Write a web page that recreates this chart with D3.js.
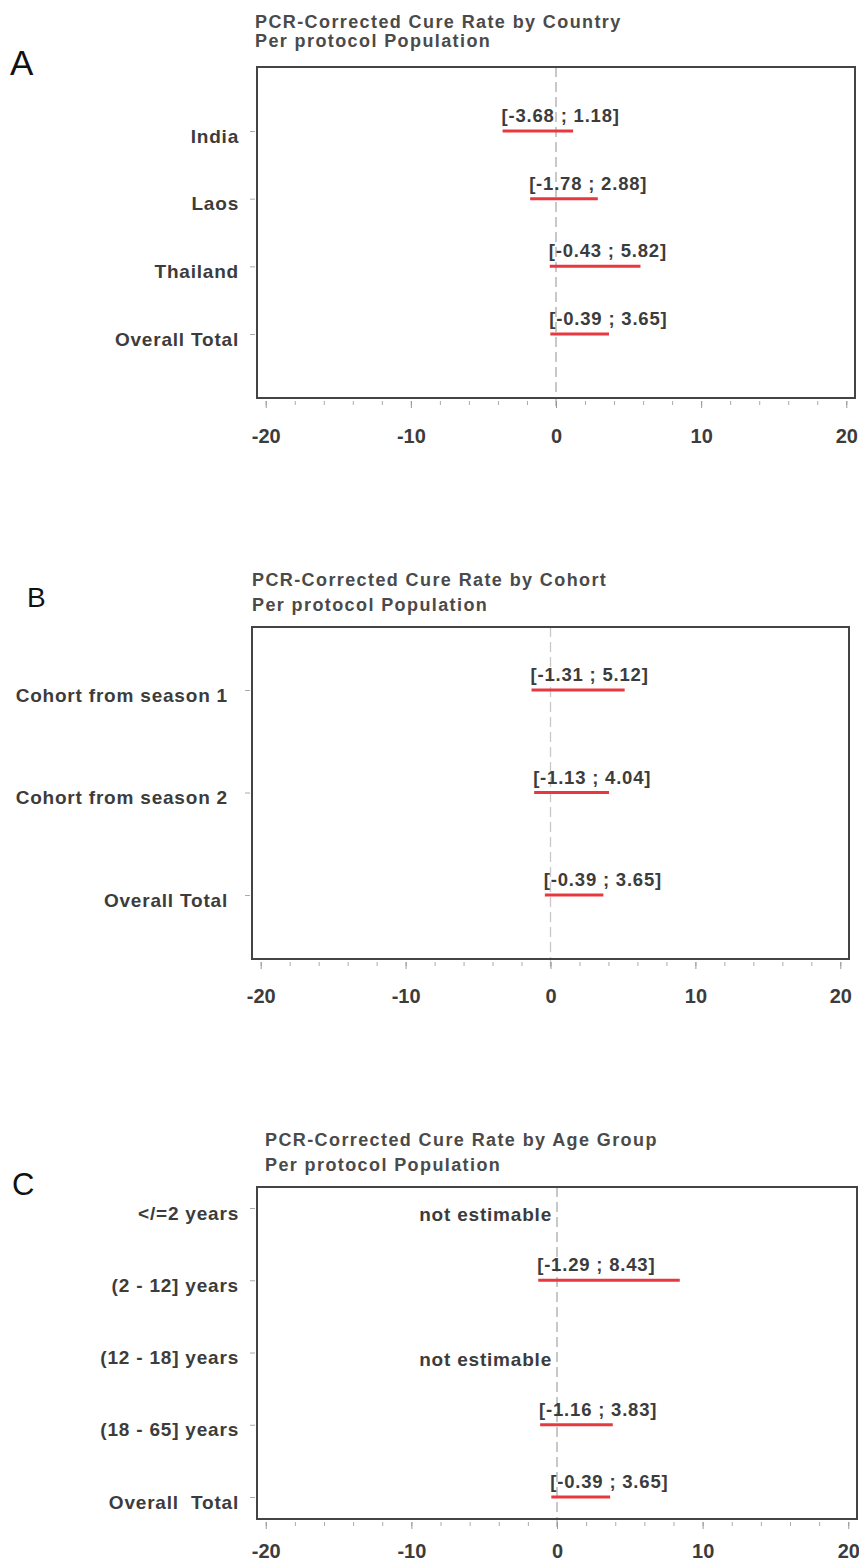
<!DOCTYPE html>
<meta charset="utf-8">
<style>
  body { margin: 0; background: #fff; }
  svg { display: block; font-family: 'Liberation Sans', Arial, sans-serif; }
  .title { font-size: 18px; font-weight: 700; fill: #4a4a4a; letter-spacing: 1.4px; }
  .letter { font-size: 32px; font-weight: 400; fill: #111; }
  .cat text { font-size: 19px; font-weight: 700; fill: #3c3c3c; letter-spacing: 0.8px; white-space: pre; }
  .xaxis text { font-size: 20px; font-weight: 700; fill: #3c3c3c; }
  .ci-label { font-size: 18.5px; font-weight: 700; fill: #3c3c3c; letter-spacing: 0.8px; }
  .na-label { font-size: 19px; font-weight: 700; fill: #3c3c3c; letter-spacing: 0.8px; }
</style>
<script src="https://d3js.org/d3.v7.min.js"></script>
<body>
<div id="chart"></div>
<script>
  // 数据
  const countryLabels = ["India", "Laos", "Thailand", "Overall Total"];
  const countryLower = [-3.68, -1.78, -0.43, -0.39];
  const countryUpper = [1.18, 2.88, 5.82, 3.65];

  const cohortLabels = ["Cohort from season 1", "Cohort from season 2", "Overall Total"];
  const cohortLower = [-1.31, -1.13, -0.39];
  const cohortUpper = [5.12, 4.04, 3.65];

  const ageLabels = ["</=2 years", "(2 - 12] years", "(12 - 18] years", "(18 - 65] years", "Overall  Total"];
  const ageLower = [null, -1.29, null, -1.16, -0.39];
  const ageUpper = [null, 8.43, null, 3.83, 3.65];

  const xTicks = [-20, -10, 0, 10, 20];
  const xMinorTicks = d3.range(-20, 21, 2);
  const xDomain = [-20.6, 20.6];
  const subtitle = "Per protocol Population";
  const naText = "not estimable";

  // 画布
  const width = 859, height = 1564;
  const svg = d3.select("#chart").append("svg")
    .attr("width", width)
    .attr("height", height);

  svg.append("rect").attr("width", width).attr("height", height).attr("fill", "#fff");

  // 每个子图的布局
  const panels = [
    { letter: "A", lx: 10, ly: 75, ls: 35, title: "PCR-Corrected Cure Rate by Country",
      tx: 255, ty: [28, 47], box: [257, 855, 67, 398], first: 131, last: 334, gap: 18, pad: 21,
      labels: countryLabels, lower: countryLower, upper: countryUpper, dash: 2 },
    { letter: "B", lx: 27, ly: 607, ls: 28, title: "PCR-Corrected Cure Rate by Cohort",
      tx: 252, ty: [586, 611], box: [252, 849, 627, 959], first: 690, last: 895, gap: 24, pad: 20,
      labels: cohortLabels, lower: cohortLower, upper: cohortUpper, dash: 1.3 },
    { letter: "C", lx: 12, ly: 1195, ls: 31, title: "PCR-Corrected Cure Rate by Age Group",
      tx: 265, ty: [1146, 1171], box: [257, 857, 1187, 1519], first: 1208, last: 1497, gap: 18, pad: 15,
      labels: ageLabels, lower: ageLower, upper: ageUpper, dash: 2 }
  ];

  panels.forEach(function (p) {
    const [left, right, top, bottom] = p.box;
    const g = svg.append("g");

    const x = d3.scaleLinear().domain(xDomain).range([left, right]);
    const y = d3.scalePoint().domain(p.labels).range([p.first, p.last]);

    // 字母与标题
    g.append("text").attr("class", "letter").attr("x", p.lx).attr("y", p.ly)
      .style("font-size", p.ls + "px").text(p.letter);
    g.append("text").attr("class", "title").attr("x", p.tx).attr("y", p.ty[0]).text(p.title);
    g.append("text").attr("class", "title").attr("x", p.tx).attr("y", p.ty[1]).text(subtitle);

    // 0 参考虚线
    g.append("line")
      .attr("x1", x(0)).attr("x2", x(0))
      .attr("y1", top).attr("y2", bottom + 8)
      .attr("stroke", "#c8c8c8")
      .attr("stroke-width", p.dash)
      .attr("stroke-dasharray", "10,5");

    // x 轴：次刻度
    g.append("g")
      .attr("transform", `translate(0,${bottom + 3})`)
      .call(d3.axisBottom(x).tickValues(xMinorTicks).tickSize(4).tickFormat(""))
      .call(a => a.select(".domain").remove())
      .call(a => a.selectAll("line").attr("stroke", "#aaa"));

    // x 轴：主刻度
    g.append("g")
      .attr("class", "xaxis")
      .attr("transform", `translate(0,${bottom + 3})`)
      .call(d3.axisBottom(x).tickValues(xTicks).tickSize(7).tickPadding(p.pad).tickFormat(d3.format("d")))
      .call(a => a.select(".domain").remove())
      .call(a => a.selectAll("line").attr("stroke", "#999"))
      .call(a => a.selectAll("text").attr("fill", "#3c3c3c").text(d => String(d).replace("\u2212", "-")));

    // y 轴
    g.append("g")
      .attr("class", "cat")
      .attr("transform", `translate(${left - 2},0)`)
      .call(d3.axisLeft(y).tickSize(5).tickPadding(p.gap - 7))
      .call(a => a.select(".domain").remove())
      .call(a => a.selectAll("line").attr("stroke", "#aaa"))
      .call(a => a.selectAll("text").attr("fill", "#3c3c3c").attr("dy", "0.58em"));

    // 外框
    g.append("rect")
      .attr("x", left).attr("y", top)
      .attr("width", right - left).attr("height", bottom - top)
      .attr("fill", "none")
      .attr("stroke", "#444")
      .attr("stroke-width", 2);

    const rows = p.labels.map((d, i) => ({ label: d, lo: p.lower[i], hi: p.upper[i] }));

    // 置信区间
    g.selectAll(".ci")
      .data(rows.filter(d => d.lo !== null))
      .join("line")
      .attr("x1", d => x(d.lo)).attr("x2", d => x(d.hi))
      .attr("y1", d => y(d.label)).attr("y2", d => y(d.label))
      .attr("stroke", "#e8383f")
      .attr("stroke-width", 3);

    g.selectAll(".ci-label")
      .data(rows.filter(d => d.lo !== null))
      .join("text")
      .attr("class", "ci-label")
      .attr("x", d => x(d.lo) - 1)
      .attr("y", d => y(d.label) - 9)
      .text(d => `[${d.lo.toFixed(2)} ; ${d.hi.toFixed(2)}]`);

    // 无法估计
    g.selectAll(".na-label")
      .data(rows.filter(d => d.lo === null))
      .join("text")
      .attr("class", "na-label")
      .attr("text-anchor", "end")
      .attr("x", x(0) - 5)
      .attr("y", d => y(d.label) + 13)
      .text(naText);
  });
</script>
</body>
